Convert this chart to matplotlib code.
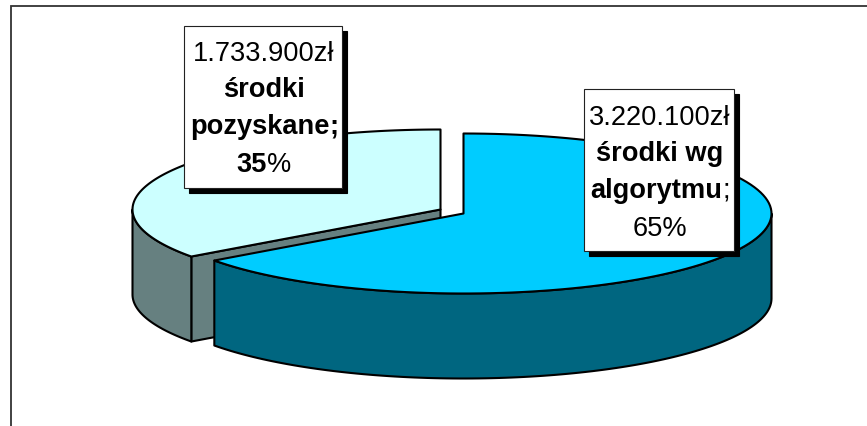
import numpy as np
import matplotlib
matplotlib.use("Agg")
import matplotlib.pyplot as plt
from matplotlib.patches import Polygon, Rectangle

# --- data ---
categories = ["środki pozyskane", "środki wg algorytmu"]
amounts = [1733900, 3220100]
amount_labels = ["1.733.900zł", "3.220.100zł"]
percent_labels = ["35%", "65%"]
top_colors = ["#CCFFFF", "#00CCFF"]
wall_colors = ["#668080", "#006680"]

W, H = 867, 427
fig = plt.figure(figsize=(W / 100, H / 100), dpi=100, facecolor="white")
ax = fig.add_axes([0, 0, 1, 1])
ax.set_xlim(0, W)
ax.set_ylim(H, 0)
ax.axis("off")
plt.rcParams["font.family"] = "Liberation Sans"

# chart frame (right and bottom are cut off in the reference)
ax.plot([10.7, 10.7, W], [H, 6.5, 6.5], color="#333333", lw=1.3, zorder=1,
        solid_joinstyle="miter")

# pie geometry
CX, CY = 440.5, 210.5
RX, RY = 308.0, 80.0
DEPTH = 85.0
EXPLODE = (23.0, 4.0)      # shift of second slice

total = sum(amounts)
frac = amounts[0] / total
a0 = 90.0
a1 = a0 + 360.0 * frac


def arc(t0, t1, cx, cy, n=120):
    t = np.radians(np.linspace(t0, t1, n))
    return np.column_stack([cx + RX * np.cos(t), cy - RY * np.sin(t)])


LW = 1.5
EC = "black"


def poly(pts, fc, z):
    ax.add_patch(Polygon(pts, closed=True, fc=fc, ec=EC, lw=LW, joinstyle="round", zorder=z))


# pale slice (0)
cx, cy = CX, CY
top_arc = arc(a0, a1, cx, cy)
d = np.array([0, DEPTH])
corner = top_arc[-1]
poly([corner, (cx, cy), (cx, cy + DEPTH), corner + d], wall_colors[0], 2)
vis = arc(180.0, a1, cx, cy)
poly(np.vstack([vis, (vis + d)[::-1]]), wall_colors[0], 3)
poly(np.vstack([[(cx, cy)], top_arc]), top_colors[0], 4)

# main slice (1)
cx, cy = CX + EXPLODE[0], CY + EXPLODE[1]
top_arc = arc(a1, a0 + 360.0, cx, cy)
vis = arc(a1, 360.0, cx, cy)
poly(np.vstack([vis, (vis + d)[::-1]]), wall_colors[1], 5)
poly(np.vstack([[(cx, cy)], top_arc]), top_colors[1], 6)


# data labels
def draw_runs(xc, y, runs):
    fig.canvas.draw()
    rend = fig.canvas.get_renderer()
    items, widths = [], []
    for s, w in runs:
        t = ax.text(0, y, s, fontsize=FS, fontweight=w, family="Liberation Sans",
                    ha="left", va="baseline", color="black", zorder=12)
        items.append(t)
        widths.append(t.get_window_extent(rend).width)
    x = xc - sum(widths) / 2
    for t, wd in zip(items, widths):
        t.set_x(x)
        x += wd


FS = 19.6
boxes = [(183.5, 26.5, 158.5, 162.5), (583.5, 89.5, 150.5, 162.5)]
line_runs = [
    [[(amount_labels[0], "normal")], [("środki", "bold")],
     [("pozyskane", "bold"), (";", "bold")],
     [(percent_labels[0][:-1], "bold"), ("%", "normal")]],
    [[(amount_labels[1], "normal")], [("środki wg", "bold")],
     [("algorytmu", "bold"), (";", "normal")], [(percent_labels[1], "normal")]],
]
centers = [(263.7, 264, 264, 263.5), (660, 660, 660, 660)]
baselines = [(60.7, 96.7, 134, 171.7), (125, 160.7, 198, 236)]
for (x, y, w, h), runs, cs, bs in zip(boxes, line_runs, centers, baselines):
    ax.add_patch(Rectangle((x + 5, y + 5), w, h, fc="black", ec="black", lw=0.8, zorder=10))
    ax.add_patch(Rectangle((x, y), w, h, fc="white", ec="#222222", lw=0.8, zorder=11))
    for r, c, b in zip(runs, cs, bs):
        draw_runs(c, b, r)

fig.savefig("out.png", dpi=100, facecolor="white")
